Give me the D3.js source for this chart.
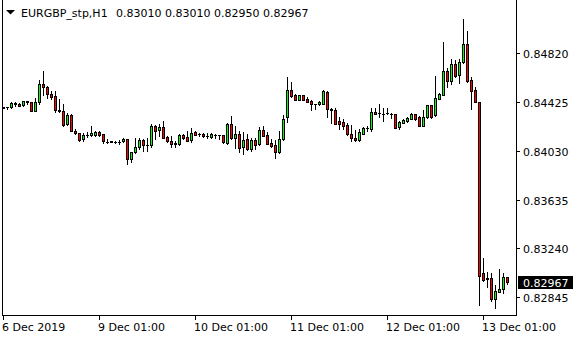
<!DOCTYPE html>
<html lang="en">
<head>
<meta charset="UTF-8">
<title>EURGBP H1</title>
<script src="https://d3js.org/d3.v7.min.js"></script>
<style>
    body { margin: 0; background: #fff; }
    text { font-family: "DejaVu Sans", sans-serif; font-size: 11px; fill: #000; }
</style>
</head>
<body>
<svg id="chart"></svg>
<script>
const symbol = "EURGBP_stp,H1";
const lastBar = [0.83010, 0.83010, 0.82950, 0.82967];

const opens = [
    0.84379, 0.84385, 0.84388, 0.84410, 0.84410, 0.84399, 0.84430, 0.84426, 0.84355, 0.84423,
    0.84572, 0.84551, 0.84491, 0.84474, 0.84361, 0.84353, 0.84244, 0.84321, 0.84195, 0.84171,
    0.84124, 0.84161, 0.84156, 0.84156, 0.84183, 0.84164, 0.84106, 0.84106, 0.84106, 0.84102,
    0.84108, 0.84124, 0.83965, 0.84019, 0.84062, 0.84116, 0.84078, 0.84075, 0.84229, 0.84197,
    0.84224, 0.84140, 0.84114, 0.84090, 0.84082, 0.84159, 0.84140, 0.84116, 0.84183, 0.84165,
    0.84169, 0.84153, 0.84145, 0.84159, 0.84159, 0.84159, 0.84096, 0.84248, 0.84137, 0.84164,
    0.84059, 0.84124, 0.84045, 0.84118, 0.84082, 0.84199, 0.84155, 0.84091, 0.84075, 0.84023,
    0.84124, 0.84307, 0.84523, 0.84480, 0.84444, 0.84480, 0.84454, 0.84430, 0.84410, 0.84407,
    0.84412, 0.84507, 0.84372, 0.84364, 0.84272, 0.84266, 0.84240, 0.84164, 0.84137, 0.84121,
    0.84169, 0.84215, 0.84210, 0.84345, 0.84334, 0.84331, 0.84334, 0.84331, 0.84329, 0.84221,
    0.84258, 0.84270, 0.84288, 0.84329, 0.84304, 0.84234, 0.84302, 0.84401, 0.84318, 0.84452,
    0.84485, 0.84674, 0.84599, 0.84733, 0.84644, 0.84747, 0.84895, 0.84601, 0.84520, 0.84423,
    0.83044, 0.82991, 0.82999, 0.82830, 0.82891, 0.82910, 0.83010
];
const highs = [
    0.84389, 0.84389, 0.84423, 0.84426, 0.84415, 0.84436, 0.84434, 0.84428, 0.84456, 0.84604,
    0.84677, 0.84555, 0.84515, 0.84515, 0.84448, 0.84412, 0.84333, 0.84329, 0.84211, 0.84175,
    0.84172, 0.84185, 0.84232, 0.84189, 0.84193, 0.84167, 0.84129, 0.84114, 0.84110, 0.84121,
    0.84134, 0.84129, 0.84021, 0.84134, 0.84132, 0.84130, 0.84132, 0.84245, 0.84236, 0.84245,
    0.84272, 0.84153, 0.84151, 0.84110, 0.84163, 0.84167, 0.84191, 0.84213, 0.84193, 0.84177,
    0.84175, 0.84172, 0.84172, 0.84167, 0.84161, 0.84159, 0.84256, 0.84313, 0.84232, 0.84193,
    0.84181, 0.84164, 0.84137, 0.84137, 0.84224, 0.84232, 0.84181, 0.84126, 0.84118, 0.84193,
    0.84323, 0.84626, 0.84585, 0.84491, 0.84482, 0.84482, 0.84469, 0.84442, 0.84410, 0.84436,
    0.84525, 0.84515, 0.84380, 0.84380, 0.84307, 0.84291, 0.84253, 0.84240, 0.84197, 0.84205,
    0.84226, 0.84234, 0.84377, 0.84375, 0.84410, 0.84375, 0.84380, 0.84334, 0.84331, 0.84272,
    0.84286, 0.84304, 0.84337, 0.84331, 0.84310, 0.84361, 0.84404, 0.84404, 0.84639, 0.84496,
    0.84911, 0.84699, 0.84774, 0.84766, 0.84774, 0.85098, 0.84998, 0.84626, 0.84550, 0.84426,
    0.83161, 0.83052, 0.83042, 0.82945, 0.83072, 0.83042, 0.83010
];
const lows = [
    0.84375, 0.84367, 0.84380, 0.84393, 0.84393, 0.84393, 0.84407, 0.84353, 0.84351, 0.84407,
    0.84482, 0.84456, 0.84448, 0.84347, 0.84345, 0.84234, 0.84236, 0.84191, 0.84167, 0.84110,
    0.84110, 0.84142, 0.84151, 0.84151, 0.84148, 0.84094, 0.84091, 0.84098, 0.84094, 0.84088,
    0.84102, 0.83926, 0.83943, 0.84013, 0.84045, 0.84029, 0.84029, 0.84059, 0.84126, 0.84153,
    0.84132, 0.84100, 0.84064, 0.84062, 0.84078, 0.84129, 0.84108, 0.84104, 0.84156, 0.84151,
    0.84142, 0.84137, 0.84137, 0.84137, 0.84124, 0.84096, 0.84088, 0.84130, 0.84056, 0.84021,
    0.84007, 0.84041, 0.84032, 0.84045, 0.84078, 0.84147, 0.84086, 0.84064, 0.83970, 0.84017,
    0.84118, 0.84266, 0.84469, 0.84440, 0.84440, 0.84442, 0.84426, 0.84361, 0.84369, 0.84402,
    0.84407, 0.84307, 0.84258, 0.84245, 0.84207, 0.84205, 0.84159, 0.84110, 0.84110, 0.84113,
    0.84164, 0.84191, 0.84193, 0.84326, 0.84302, 0.84274, 0.84326, 0.84294, 0.84213, 0.84211,
    0.84253, 0.84266, 0.84286, 0.84282, 0.84232, 0.84229, 0.84299, 0.84296, 0.84312, 0.84448,
    0.84480, 0.84545, 0.84572, 0.84632, 0.84582, 0.84742, 0.84590, 0.84373, 0.84422, 0.82783,
    0.82973, 0.82931, 0.82813, 0.82756, 0.82886, 0.82883, 0.82950
];
const closes = [
    0.84385, 0.84388, 0.84415, 0.84414, 0.84397, 0.84434, 0.84422, 0.84355, 0.84423, 0.84572,
    0.84550, 0.84488, 0.84464, 0.84359, 0.84351, 0.84240, 0.84321, 0.84193, 0.84171, 0.84121,
    0.84161, 0.84161, 0.84177, 0.84183, 0.84161, 0.84108, 0.84104, 0.84108, 0.84102, 0.84104,
    0.84124, 0.83967, 0.84019, 0.84062, 0.84116, 0.84078, 0.84078, 0.84229, 0.84193, 0.84224,
    0.84137, 0.84113, 0.84088, 0.84087, 0.84159, 0.84137, 0.84113, 0.84175, 0.84161, 0.84164,
    0.84148, 0.84153, 0.84164, 0.84159, 0.84159, 0.84100, 0.84248, 0.84134, 0.84164, 0.84056,
    0.84118, 0.84048, 0.84118, 0.84078, 0.84197, 0.84151, 0.84088, 0.84072, 0.84023, 0.84124,
    0.84288, 0.84523, 0.84474, 0.84444, 0.84480, 0.84444, 0.84428, 0.84407, 0.84410, 0.84426,
    0.84517, 0.84367, 0.84361, 0.84250, 0.84248, 0.84234, 0.84164, 0.84132, 0.84121, 0.84183,
    0.84215, 0.84215, 0.84345, 0.84331, 0.84334, 0.84331, 0.84334, 0.84331, 0.84215, 0.84264,
    0.84280, 0.84299, 0.84329, 0.84288, 0.84234, 0.84302, 0.84399, 0.84302, 0.84458, 0.84491,
    0.84674, 0.84599, 0.84733, 0.84637, 0.84747, 0.84895, 0.84596, 0.84517, 0.84426, 0.83020,
    0.82981, 0.83001, 0.82830, 0.82894, 0.82910, 0.83009, 0.82967
];

const priceTicks = [0.84820, 0.84425, 0.84030, 0.83635, 0.83240, 0.82845];
const timeTickIndex = [0, 24, 48, 72, 96, 120];
const timeTickLabels = ["6 Dec 2019", "9 Dec 01:00", "10 Dec 01:00", "11 Dec 01:00", "12 Dec 01:00", "13 Dec 01:00"];

const width = 580;
const height = 340;
const plot = { left: 2, right: 516, bottom: 315 };

const svg = d3.select("#chart")
    .attr("width", width)
    .attr("height", height)
    .style("display", "block");

const x = d3.scaleLinear().domain([0, opens.length - 1]).range([3, 3 + 4 * (opens.length - 1)]);
const y = d3.scaleLinear().domain([0.82845, 0.84820]).range([297.3, 53.3]);

const bars = opens.map((o, i) => ({ i: i, o: o, h: highs[i], l: lows[i], c: closes[i] }));

// frame
const frame = svg.append("g").attr("shape-rendering", "crispEdges");
frame.append("rect").attr("x", plot.left).attr("y", 0).attr("width", 1).attr("height", plot.bottom + 1).attr("fill", "#000");
frame.append("rect").attr("x", plot.right).attr("y", 0).attr("width", 1).attr("height", plot.bottom + 1).attr("fill", "#000");
frame.append("rect").attr("x", plot.left).attr("y", plot.bottom).attr("width", plot.right - plot.left + 1).attr("height", 1).attr("fill", "#000");

// candles
const candles = svg.append("g").attr("shape-rendering", "crispEdges")
    .selectAll("g")
    .data(bars)
    .enter().append("g");

candles.append("rect")
    .attr("x", d => Math.round(x(d.i)))
    .attr("y", d => Math.round(y(d.h)))
    .attr("width", 1)
    .attr("height", d => Math.round(y(d.l)) - Math.round(y(d.h)) + 1)
    .attr("fill", "#000");

candles.each(function (d) {
    const g = d3.select(this);
    const cx = Math.round(x(d.i));
    const top = Math.round(y(Math.max(d.o, d.c)));
    const bot = Math.round(y(Math.min(d.o, d.c)));
    g.append("rect")
        .attr("x", cx - 1).attr("y", top)
        .attr("width", 3).attr("height", bot - top + 1)
        .attr("fill", "#000");
    if (bot - top >= 2) {
        g.append("rect")
            .attr("x", cx).attr("y", top + 1)
            .attr("width", 1).attr("height", bot - top - 1)
            .attr("fill", d.c > d.o ? "#00ff00" : "#ff0000");
    }
});

// price axis
const yAxis = svg.append("g");
yAxis.selectAll("rect")
    .data(priceTicks)
    .enter().append("rect")
    .attr("shape-rendering", "crispEdges")
    .attr("x", plot.right + 1).attr("y", d => Math.round(y(d)))
    .attr("width", 3).attr("height", 1)
    .attr("fill", "#000");
yAxis.selectAll("text")
    .data(priceTicks)
    .enter().append("text")
    .attr("x", 523)
    .attr("y", d => Math.round(y(d)) + 4.5)
    .text(d => d.toFixed(5));

// last price marker
const lastY = Math.round(y(lastBar[3]));
svg.append("rect")
    .attr("shape-rendering", "crispEdges")
    .attr("x", 518).attr("y", lastY - 6)
    .attr("width", 55).attr("height", 13)
    .attr("fill", "#000");
svg.append("text")
    .attr("x", 523).attr("y", lastY + 4.5)
    .style("fill", "#fff")
    .text(lastBar[3].toFixed(5));

// time axis
const xAxis = svg.append("g");
xAxis.selectAll("rect")
    .data(timeTickIndex)
    .enter().append("rect")
    .attr("shape-rendering", "crispEdges")
    .attr("x", d => Math.round(x(d))).attr("y", plot.bottom + 1)
    .attr("width", 1).attr("height", 4)
    .attr("fill", "#000");
xAxis.selectAll("text")
    .data(timeTickIndex)
    .enter().append("text")
    .attr("x", d => Math.round(x(d)) - 1)
    .attr("y", 331)
    .text((d, k) => timeTickLabels[k]);

// header
svg.append("path")
    .attr("d", "M6,10L15,10L10.5,14.5Z")
    .attr("fill", "#000");
svg.append("text").attr("x", 21).attr("y", 16.5).text(symbol);
svg.append("text").attr("x", 116).attr("y", 16.5)
    .text(lastBar.map(v => v.toFixed(5)).join(" "));
</script>
</body>
</html>
